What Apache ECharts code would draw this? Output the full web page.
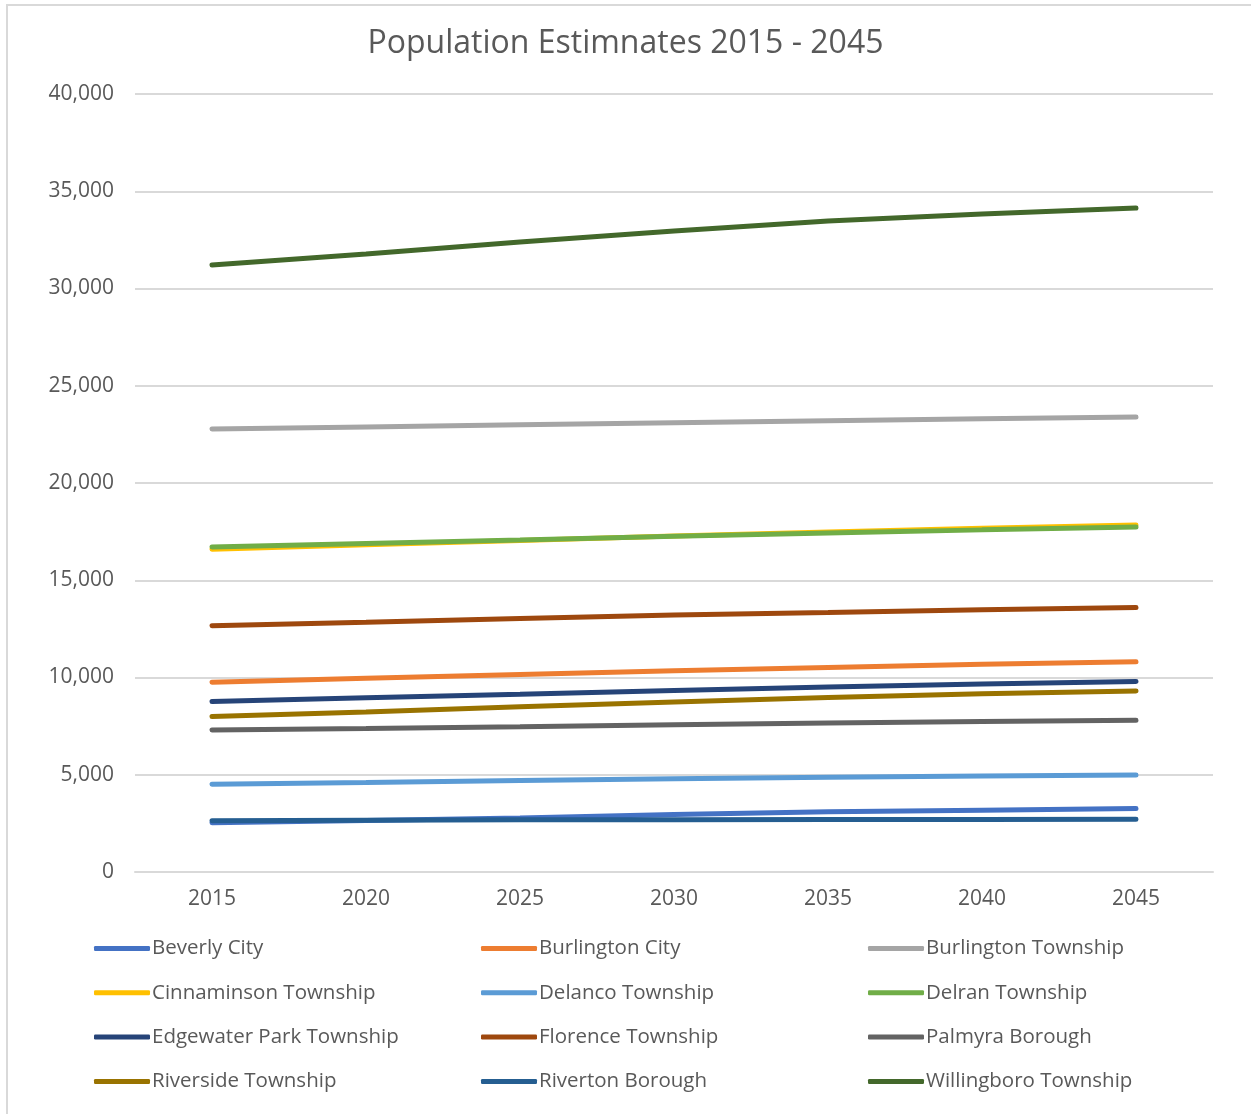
<!DOCTYPE html>
<html>
<head>
<meta charset="utf-8">
<script src="https://cdn.jsdelivr.net/npm/echarts@6/dist/echarts.min.js"></script>
<style>html,body{margin:0;padding:0;background:#fff;}#c{width:1251px;height:1114px;}</style>
</head>
<body>
<div id="c"></div>
<script>
const years = ['2015','2020','2025','2030','2035','2040','2045'];
const beverlyCity = [2530, 2650, 2780, 2950, 3100, 3180, 3260];
const burlingtonCity = [9760, 9960, 10160, 10350, 10520, 10680, 10810];
const burlingtonTownship = [22780, 22880, 22990, 23100, 23200, 23300, 23390];
const cinnaminsonTownship = [16600, 16820, 17050, 17280, 17480, 17670, 17840];
const delancoTownship = [4510, 4600, 4700, 4800, 4870, 4930, 4990];
const delranTownship = [16710, 16890, 17070, 17260, 17430, 17590, 17740];
const edgewaterParkTownship = [8760, 8960, 9140, 9330, 9510, 9670, 9800];
const florenceTownship = [12660, 12840, 13030, 13210, 13340, 13480, 13600];
const palmyraBorough = [7300, 7380, 7470, 7570, 7660, 7740, 7800];
const riversideTownship = [7990, 8230, 8490, 8740, 8970, 9160, 9310];
const rivertonBorough = [2640, 2660, 2680, 2690, 2700, 2705, 2710];
const willingboroTownship = [31210, 31770, 32390, 32960, 33470, 33830, 34140];
const yTicks = [0, 5000, 10000, 15000, 20000, 25000, 30000, 35000, 40000];

const seriesDefs = [
  ['Beverly City', beverlyCity, '#4472C4'],
  ['Burlington City', burlingtonCity, '#ED7D31'],
  ['Burlington Township', burlingtonTownship, '#A5A5A5'],
  ['Cinnaminson Township', cinnaminsonTownship, '#FFC000'],
  ['Delanco Township', delancoTownship, '#5B9BD5'],
  ['Delran Township', delranTownship, '#70AD47'],
  ['Edgewater Park Township', edgewaterParkTownship, '#264478'],
  ['Florence Township', florenceTownship, '#9E480E'],
  ['Palmyra Borough', palmyraBorough, '#636363'],
  ['Riverside Township', riversideTownship, '#997300'],
  ['Riverton Borough', rivertonBorough, '#255E91'],
  ['Willingboro Township', willingboroTownship, '#43682B']
];

const font = 'Open Sans';
const chart = echarts.init(document.getElementById('c'));
const legendCols = [
  ['Beverly City','Cinnaminson Township','Edgewater Park Township','Riverside Township'],
  ['Burlington City','Delanco Township','Florence Township','Riverton Borough'],
  ['Burlington Township','Delran Township','Palmyra Borough','Willingboro Township']
];
const colLeft = [89, 476, 863];
chart.setOption({
  animation: false,
  backgroundColor: '#fff',
  title: {
    text: 'Population Estimnates 2015 - 2045',
    left: 'center', top: 23,
    textStyle: {fontFamily: font, fontSize: 32, fontWeight: 'normal', color: '#595959'}
  },
  graphic: [{
    type: 'polyline', shape: {points: [[7, 1114], [7, 5], [1251, 5]]},
    style: {stroke: '#d9d9d9', lineWidth: 2, fill: null}, silent: true
  }],
  legend: legendCols.map((col, i) => ({
    data: col, orient: 'vertical', left: colLeft[i], top: 933,
    icon: 'roundRect', itemWidth: 56, itemHeight: 5, itemGap: 23.3,
    textStyle: {fontFamily: font, fontSize: 20.5, lineHeight: 20, color: '#595959', padding: [0,0,0,-3]}
  })),
  grid: {left: 135, right: 38, top: 94, bottom: 242},
  xAxis: {
    type: 'category', data: years, boundaryGap: true,
    axisLine: {lineStyle: {color: '#d9d9d9', width: 2}},
    axisTick: {show: false},
    axisLabel: {fontFamily: font, fontSize: 21, color: '#595959', margin: 17}
  },
  yAxis: {
    type: 'value', min: yTicks[0], max: yTicks[yTicks.length-1], interval: 5000,
    axisLine: {show: false}, axisTick: {show: false},
    splitLine: {lineStyle: {color: '#d9d9d9', width: 2}},
    axisLabel: {fontFamily: font, fontSize: 21, color: '#595959', margin: 21,
      formatter: v => v.toLocaleString('en-US')}
  },
  series: seriesDefs.map(([name, data, color]) => ({
    name, type: 'line', data, color, symbol: 'none', showSymbol: false,
    lineStyle: {width: 5, color, cap: 'round'}, itemStyle: {color}
  }))
});
</script>
</body>
</html>
